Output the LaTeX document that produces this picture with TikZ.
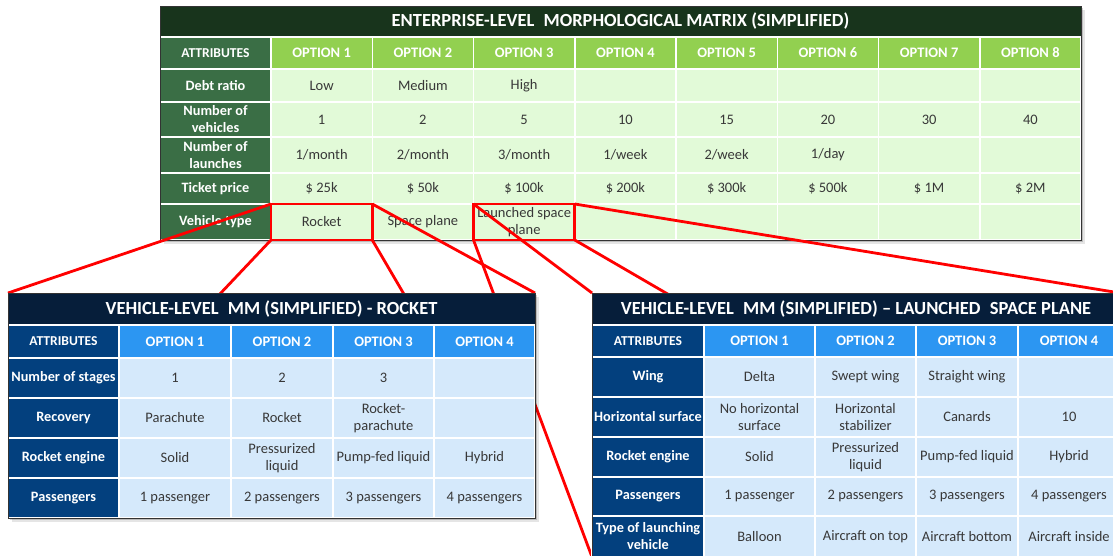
\documentclass[tikz,border=0pt]{standalone}
\usepackage{fontspec}
\setmainfont{Carlito}
\definecolor{gTitleC}{HTML}{18341C}
\definecolor{gAttrC}{HTML}{3A6E45}
\definecolor{gHeadC}{HTML}{92D050}
\definecolor{gCellC}{HTML}{E2FAD8}
\definecolor{bTitleC}{HTML}{061E3A}
\definecolor{bAttrC}{HTML}{03407E}
\definecolor{bHeadC}{HTML}{2C96F2}
\definecolor{bCellC}{HTML}{D5E9FB}
\definecolor{txtC}{HTML}{383838}
\newcommand\mcell[7]{\node[#6, minimum width={(#4)-(#2)}, minimum height={(#5)-(#3)}] (#1) at ({((#2)+(#4))/2},{((#3)+(#5))/2}) {#7};}
\tikzset{
  base/.style={inner sep=1pt, outer sep=0pt, draw=white, line width=1.5pt, align=center},
  titlefont/.style={font=\bfseries\fontsize{18.5}{21}\selectfont},
  attrfont/.style={font=\bfseries\fontsize{14.3}{17}\selectfont},
  labfont/.style={font=\bfseries\fontsize{13.6}{16}\selectfont},
  headfont/.style={font=\bfseries\fontsize{14.5}{17}\selectfont},
  cellfont/.style={font=\fontsize{14.5}{17.5}\selectfont},
  gtitle/.style={base, draw=none, fill=gTitleC, text=white, titlefont},
  gattr/.style={base, fill=gAttrC, text=white, attrfont},
  glab/.style={base, fill=gAttrC, text=white, labfont},
  ghead/.style={base, fill=gHeadC, text=white, headfont},
  gcell/.style={base, fill=gCellC, text=txtC, cellfont},
  btitle/.style={base, draw=none, fill=bTitleC, text=white, titlefont},
  battr/.style={base, fill=bAttrC, text=white, attrfont},
  blab/.style={base, fill=bAttrC, text=white, labfont},
  bhead/.style={base, fill=bHeadC, text=white, headfont},
  bcell/.style={base, fill=bCellC, text=txtC, cellfont},
  anchorbox/.style={draw=none, inner sep=0pt, outer sep=0pt},
  frame/.style={draw=black!80, line width=0.8pt},
  shade1/.style={fill=black, opacity=0.18},
  shade2/.style={fill=black, opacity=0.10},
  redline/.style={draw=red, line width=2.8pt},
}
\begin{document}
\begin{tikzpicture}[x=1pt, y=-1pt]
\clip (0,0) rectangle (1113,556);
\fill[white] (0,0) rectangle (1113,556);
% anchor boxes for the tables
\node[anchorbox, minimum width=921, minimum height=234] (T) at (620.5,123) {};
\node[anchorbox, minimum width=527, minimum height=225] (R) at (271.5,405.5) {};
\node[anchorbox, minimum width=528, minimum height=264] (L) at (856,425) {};
% ---------- enterprise table ----------
\fill[shade2] ([shift={(4,4)}]T.north west) rectangle ([shift={(4,4)}]T.south east);
\fill[shade1] ([shift={(2,2)}]T.north west) rectangle ([shift={(2,2)}]T.south east);
\mcell{ttl}{160}{6}{1081}{37}{gtitle}{ENTERPRISE-LEVEL\enspace MORPHOLOGICAL MATRIX (SIMPLIFIED)}
\mcell{ta}{160}{37}{271}{69}{glab}{ATTRIBUTES}
\foreach \i in {1,...,8} {\pgfmathsetmacro\xa{271+(\i-1)*101.25}\mcell{to\i}{\xa}{37}{\xa+101.25}{69}{ghead}{OPTION \i}}
\mcell{da}{160}{69}{271}{102}{gattr}{Debt ratio}
\foreach \t [count=\i] in {Low,Medium,High,{},{},{},{},{}} {\pgfmathsetmacro\xa{271+(\i-1)*101.25}\mcell{d\i}{\xa}{69}{\xa+101.25}{102}{gcell}{\t}}
\mcell{na}{160}{102}{271}{137}{gattr}{Number of\\vehicles}
\foreach \t [count=\i] in {1,2,5,10,15,20,30,40} {\pgfmathsetmacro\xa{271+(\i-1)*101.25}\mcell{n\i}{\xa}{102}{\xa+101.25}{137}{gcell}{\t}}
\mcell{la}{160}{137}{271}{173}{gattr}{Number of\\launches}
\foreach \t [count=\i] in {1/month,2/month,3/month,1/week,2/week,1/day,{},{}} {\pgfmathsetmacro\xa{271+(\i-1)*101.25}\mcell{l\i}{\xa}{137}{\xa+101.25}{173}{gcell}{\t}}
\mcell{pa}{160}{173}{271}{204}{gattr}{Ticket price}
\foreach \t [count=\i] in {\$ 25k,\$ 50k,\$ 100k,\$ 200k,\$ 300k,\$ 500k,\$ 1M,\$ 2M} {\pgfmathsetmacro\xa{271+(\i-1)*101.25}\mcell{p\i}{\xa}{173}{\xa+101.25}{204}{gcell}{\t}}
\mcell{va}{160}{204}{271}{240}{gattr}{Vehicle type}
\foreach \t [count=\i] in {Rocket,Space plane,{Launched space\\plane},{},{},{},{},{}} {\pgfmathsetmacro\xa{271+(\i-1)*101.25}\mcell{v\i}{\xa}{204}{\xa+101.25}{240}{gcell}{\t}}
\draw[frame] (T.north west) rectangle (T.south east);
% ---------- red zoom connectors ----------
\draw[redline] (v1.north west) -- (R.north west);
\draw[redline] (v1.north east) -- (R.north east);
\draw[redline] (v1.south west) -- (R.south west);
\draw[redline] (v1.south east) -- (R.south east);
\draw[redline] (v3.north west) -- (L.north west);
\draw[redline] (v3.north east) -- (L.north east);
\draw[redline] (v3.south west) -- (L.south west);
\draw[redline] (v3.south east) -- (L.south east);
\draw[redline] (v1.north west) rectangle (v1.south east);
\draw[redline] (v3.north west) rectangle (v3.south east);
% ---------- rocket table ----------
\fill[shade2] ([shift={(4,4)}]R.north west) rectangle ([shift={(4,4)}]R.south east);
\fill[shade1] ([shift={(2,2)}]R.north west) rectangle ([shift={(2,2)}]R.south east);
\mcell{rttl}{8}{293}{535}{325}{btitle}{VEHICLE-LEVEL\enspace MM (SIMPLIFIED) - ROCKET}
\mcell{rha}{8}{325}{119}{358}{blab}{ATTRIBUTES}
\foreach \xa/\xb [count=\i] in {119/231,231/333,333/434,434/535} {\mcell{rh\i}{\xa}{325}{\xb}{358}{bhead}{OPTION \i}}
\mcell{rsa}{8}{358}{119}{398}{battr}{Number of stages}
\foreach \xa/\xb/\t [count=\i] in {119/231/1,231/333/2,333/434/3,434/535/{}} {\mcell{rs\i}{\xa}{358}{\xb}{398}{bcell}{\t}}
\mcell{rra}{8}{398}{119}{438}{battr}{Recovery}
\foreach \xa/\xb/\t [count=\i] in {119/231/Parachute,231/333/Rocket,333/434/{Rocket-\\parachute},434/535/{}} {\mcell{rr\i}{\xa}{398}{\xb}{438}{bcell}{\t}}
\mcell{rea}{8}{438}{119}{478}{battr}{Rocket engine}
\foreach \xa/\xb/\t [count=\i] in {119/231/Solid,231/333/{Pressurized\\liquid},333/434/Pump-fed liquid,434/535/Hybrid} {\mcell{re\i}{\xa}{438}{\xb}{478}{bcell}{\t}}
\mcell{rpa}{8}{478}{119}{518}{battr}{Passengers}
\foreach \xa/\xb/\t [count=\i] in {119/231/1 passenger,231/333/2 passengers,333/434/3 passengers,434/535/4 passengers} {\mcell{rp\i}{\xa}{478}{\xb}{518}{bcell}{\t}}
\draw[frame] (R.north west) rectangle (R.south east);
% ---------- launched space plane table ----------
\fill[shade2] ([shift={(4,4)}]L.north west) rectangle ([shift={(4,4)}]L.south east);
\fill[shade1] ([shift={(2,2)}]L.north west) rectangle ([shift={(2,2)}]L.south east);
\mcell{lttl}{592}{293}{1120}{325}{btitle}{VEHICLE-LEVEL\enspace MM (SIMPLIFIED) -- LAUNCHED\enspace SPACE PLANE}
\mcell{lha}{592}{325}{704}{357}{blab}{ATTRIBUTES}
\foreach \xa/\xb [count=\i] in {704/815,815/916,916/1018,1018/1120} {\mcell{lh\i}{\xa}{325}{\xb}{357}{bhead}{OPTION \i}}
\mcell{lwa}{592}{357}{704}{397}{battr}{Wing}
\foreach \xa/\xb/\t [count=\i] in {704/815/Delta,815/916/Swept wing,916/1018/Straight wing,1018/1120/{}} {\mcell{lw\i}{\xa}{357}{\xb}{397}{bcell}{\t}}
\mcell{lsa}{592}{397}{704}{437}{battr}{Horizontal surface}
\foreach \xa/\xb/\t [count=\i] in {704/815/{No horizontal\\surface},815/916/{Horizontal\\stabilizer},916/1018/Canards,1018/1120/10} {\mcell{ls\i}{\xa}{397}{\xb}{437}{bcell}{\t}}
\mcell{lea}{592}{437}{704}{477}{battr}{Rocket engine}
\foreach \xa/\xb/\t [count=\i] in {704/815/Solid,815/916/{Pressurized\\liquid},916/1018/Pump-fed liquid,1018/1120/Hybrid} {\mcell{le\i}{\xa}{437}{\xb}{477}{bcell}{\t}}
\mcell{lpa}{592}{477}{704}{516}{battr}{Passengers}
\foreach \xa/\xb/\t [count=\i] in {704/815/1 passenger,815/916/2 passengers,916/1018/3 passengers,1018/1120/4 passengers} {\mcell{lp\i}{\xa}{477}{\xb}{516}{bcell}{\t}}
\mcell{lta}{592}{516}{704}{557}{battr}{Type of launching\\vehicle}
\foreach \xa/\xb/\t [count=\i] in {704/815/Balloon,815/916/Aircraft on top,916/1018/Aircraft bottom,1018/1120/Aircraft inside} {\mcell{lt\i}{\xa}{516}{\xb}{557}{bcell}{\t}}
\draw[frame] (L.north west) rectangle (L.south east);
\end{tikzpicture}
\end{document}
